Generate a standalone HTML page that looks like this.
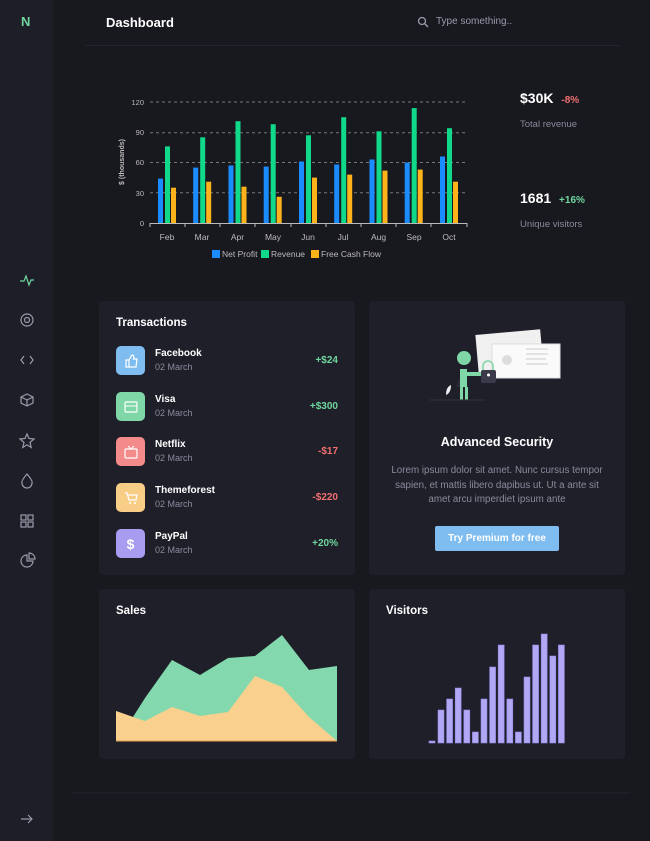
<!DOCTYPE html>
<html><head><meta charset="utf-8"><style>
*{margin:0;padding:0;box-sizing:border-box}
body{width:650px;height:841px;background:#18181f;font-family:"Liberation Sans",sans-serif;position:relative;overflow:hidden;color:#fff}
.abs{position:absolute}
.side{left:0;top:0;width:53px;height:841px;background:#1e1e28}
.card{background:#1f1f2a;border-radius:4px}
.t{font-weight:bold;font-size:12px;color:#fff}
.s{font-size:9px;color:#8a8a9c}
.ic{width:29px;height:29px;border-radius:5px;display:flex;align-items:center;justify-content:center}
</style></head><body>
<div class="abs side"></div>
<div class="abs" style="left:21px;top:14px;color:#6fd69d;font-weight:bold;font-size:13px">N</div>
<div class="abs t" style="left:106px;top:15px;font-size:13px">Dashboard</div>
<svg class="abs" style="left:417px;top:16px" width="12" height="12"><circle cx="5" cy="5" r="3.5" stroke="#9a9aac" stroke-width="1.3" fill="none"/><line x1="7.5" y1="7.5" x2="11" y2="11" stroke="#9a9aac" stroke-width="1.4"/></svg>
<div class="abs" style="left:436px;top:16px;font-size:10px;color:#9a9aac">Type something..</div>
<div class="abs" style="left:85px;top:45px;width:535px;height:1px;background:#23232d"></div>

<svg class="abs" style="left:0;top:0" width="650" height="841">
<g stroke="#777" stroke-dasharray="3,3" stroke-width="1">
<line x1="150" y1="102" x2="467" y2="102"/><line x1="150" y1="132.8" x2="467" y2="132.8"/><line x1="150" y1="162.5" x2="467" y2="162.5"/><line x1="150" y1="192.8" x2="467" y2="192.8"/></g>
<line x1="150" y1="223.5" x2="467" y2="223.5" stroke="#bbb"/>
<g stroke="#bbb"><line x1="150" y1="223" x2="150" y2="227"/><line x1="185" y1="223" x2="185" y2="227"/><line x1="220" y1="223" x2="220" y2="227"/><line x1="255" y1="223" x2="255" y2="227"/><line x1="291" y1="223" x2="291" y2="227"/><line x1="326" y1="223" x2="326" y2="227"/><line x1="361" y1="223" x2="361" y2="227"/><line x1="396" y1="223" x2="396" y2="227"/><line x1="431" y1="223" x2="431" y2="227"/><line x1="467" y1="223" x2="467" y2="227"/></g>
<g font-family="Liberation Sans" font-size="7.5" fill="#bbb" text-anchor="end"><text x="144" y="105">120</text><text x="144" y="135">90</text><text x="144" y="165">60</text><text x="144" y="196">30</text><text x="144" y="226">0</text></g>
<text transform="translate(124,162) rotate(-90)" font-family="Liberation Sans" font-size="7" font-weight="bold" fill="#bbb" text-anchor="middle">$ (thousands)</text>
<g font-family="Liberation Sans" font-size="8.5" fill="#bbb" text-anchor="middle"><text x="167" y="240">Feb</text><text x="202" y="240">Mar</text><text x="237.5" y="240">Apr</text><text x="273" y="240">May</text><text x="308" y="240">Jun</text><text x="343" y="240">Jul</text><text x="378.5" y="240">Aug</text><text x="414" y="240">Sep</text><text x="449" y="240">Oct</text></g>
<g fill="#1a8cff">
<rect x="158" y="178.6" width="5" height="44.4"/><rect x="193.2" y="167.6" width="5" height="55.4"/><rect x="228.5" y="165.5" width="5" height="57.5"/><rect x="263.7" y="166.6" width="5" height="56.4"/><rect x="299" y="161.5" width="5" height="61.5"/><rect x="334.2" y="164.5" width="5" height="58.5"/><rect x="369.5" y="159.5" width="5" height="63.5"/><rect x="404.7" y="162.5" width="5" height="60.5"/><rect x="440" y="156.5" width="5" height="66.5"/></g>
<g fill="#10d98a">
<rect x="165" y="146.4" width="5" height="76.6"/><rect x="200.2" y="137.3" width="5" height="85.7"/><rect x="235.5" y="121.2" width="5" height="101.8"/><rect x="270.7" y="124.2" width="5" height="98.8"/><rect x="306" y="135.3" width="5" height="87.7"/><rect x="341.2" y="117.2" width="5" height="105.8"/><rect x="376.5" y="131.3" width="5" height="91.7"/><rect x="411.7" y="108.1" width="5" height="114.9"/><rect x="447" y="128.2" width="5" height="94.8"/></g>
<g fill="#ffb31a">
<rect x="171" y="187.7" width="5" height="35.3"/><rect x="206.2" y="181.7" width="5" height="41.3"/><rect x="241.5" y="186.7" width="5" height="36.3"/><rect x="276.7" y="196.8" width="5" height="26.2"/><rect x="312" y="177.6" width="5" height="45.4"/><rect x="347.2" y="174.6" width="5" height="48.4"/><rect x="382.5" y="170.6" width="5" height="52.4"/><rect x="417.7" y="169.6" width="5" height="53.4"/><rect x="453" y="181.7" width="5" height="41.3"/></g>
<rect x="212" y="250" width="8" height="8" fill="#1a8cff"/><rect x="261" y="250" width="8" height="8" fill="#10d98a"/><rect x="311" y="250" width="8" height="8" fill="#ffb31a"/>
<g font-family="Liberation Sans" font-size="8.5" fill="#bbb"><text x="222" y="257">Net Profit</text><text x="271" y="257">Revenue</text><text x="321" y="257">Free Cash Flow</text></g>
</svg>

<div class="abs t" style="left:520px;top:90px;font-size:14px">$30K <span style="color:#f07070;font-size:10px;margin-left:4px">-8%</span></div>
<div class="abs s" style="left:520px;top:119px;font-size:9.5px">Total revenue</div>
<div class="abs t" style="left:520px;top:190px;font-size:14px">1681 <span style="color:#6fd69d;font-size:10px;margin-left:4px">+16%</span></div>
<div class="abs s" style="left:520px;top:219px;font-size:9.5px">Unique visitors</div>

<div class="abs card" style="left:99px;top:301px;width:256px;height:274px"></div>
<div class="abs t" style="left:116px;top:317px;font-size:11.5px">Transactions</div>

<div class="abs ic" style="left:116px;top:346px;background:#7fbdf0"><svg width="14" height="14"><path d="M2 6h3v7H2zM5 6l3-5c2 0 2 2 1.5 4H13l-1 8H5" stroke="#fff" fill="none" stroke-width="1.2"/></svg></div>
<div class="abs t" style="left:155px;top:348px;font-size:10px">Facebook</div><div class="abs s" style="left:155px;top:362px">02 March</div><div class="abs" style="right:312px;top:355px;font-size:10px;color:#6fd69d;font-weight:bold">+$24</div>

<div class="abs ic" style="left:116px;top:392px;background:#7fd6a6"><svg width="14" height="12"><rect x="1" y="1" width="12" height="10" rx="1" stroke="#fff" fill="none" stroke-width="1.2"/><line x1="1" y1="5" x2="13" y2="5" stroke="#fff"/></svg></div>
<div class="abs t" style="left:155px;top:394px;font-size:10px">Visa</div><div class="abs s" style="left:155px;top:408px">02 March</div><div class="abs" style="right:312px;top:401px;font-size:10px;color:#6fd69d;font-weight:bold">+$300</div>

<div class="abs ic" style="left:116px;top:437px;background:#f48b8b"><svg width="14" height="14"><rect x="1" y="4" width="12" height="9" rx="1" stroke="#fff" fill="none" stroke-width="1.2"/><path d="M4 1l3 3 3-3" stroke="#fff" fill="none"/></svg></div>
<div class="abs t" style="left:155px;top:439px;font-size:10px">Netflix</div><div class="abs s" style="left:155px;top:453px">02 March</div><div class="abs" style="right:312px;top:446px;font-size:10px;color:#f07070;font-weight:bold">-$17</div>

<div class="abs ic" style="left:116px;top:483px;background:#f8cd86"><svg width="14" height="14"><path d="M1 2h2l2 7h7l1-5H4" stroke="#fff" fill="none" stroke-width="1.2"/><circle cx="6" cy="12" r="1" fill="#fff"/><circle cx="11" cy="12" r="1" fill="#fff"/></svg></div>
<div class="abs t" style="left:155px;top:485px;font-size:10px">Themeforest</div><div class="abs s" style="left:155px;top:499px">02 March</div><div class="abs" style="right:312px;top:492px;font-size:10px;color:#f07070;font-weight:bold">-$220</div>

<div class="abs ic" style="left:116px;top:529px;background:#a89cf0;color:#fff;font-size:14px;font-weight:bold">$</div>
<div class="abs t" style="left:155px;top:531px;font-size:10px">PayPal</div><div class="abs s" style="left:155px;top:545px">02 March</div><div class="abs" style="right:312px;top:538px;font-size:10px;color:#6fd69d;font-weight:bold">+20%</div>

<div class="abs card" style="left:369px;top:301px;width:256px;height:274px"></div>
<svg class="abs" style="left:430px;top:325px" width="140" height="90">
<rect x="47" y="7" width="65" height="40" fill="#f0f0f0" transform="rotate(-5 80 27)"/>
<rect x="62" y="19" width="68" height="34" fill="#fafafa" stroke="#ddd"/>
<circle cx="77" cy="35" r="5" fill="#ddd"/>
<g stroke="#ccc"><line x1="96" y1="24" x2="118" y2="24"/><line x1="96" y1="29" x2="118" y2="29"/><line x1="96" y1="34" x2="116" y2="34"/><line x1="96" y1="39" x2="118" y2="39"/></g>
<circle cx="34" cy="33" r="7" fill="#7fd6a6"/>
<path d="M26 62 q6 -20 12 0z" fill="#2b2b38"/>
<rect x="30" y="44" width="7" height="18" fill="#7fd6a6"/>
<rect x="30" y="62" width="3" height="13" fill="#7fd6a6"/><rect x="35" y="62" width="3" height="13" fill="#7fd6a6"/>
<rect x="37" y="47" width="15" height="4" fill="#7fd6a6"/>
<path d="M53 47 v-6 a5 5 0 0 1 10 0 v6" stroke="#7fd6a6" fill="none" stroke-width="1.5"/>
<rect x="51" y="45" width="15" height="13" rx="2" fill="#3a3a4a"/>
<circle cx="58.5" cy="50" r="1.5" fill="#fff"/>
<path d="M16 70 q0 -8 5 -10 q0 8 -5 10z" fill="#eee"/>
<line x1="0" y1="75" x2="55" y2="75" stroke="#333"/>
</svg>
<div class="abs t" style="left:369px;top:435px;width:256px;text-align:center;font-size:12.5px">Advanced Security</div>
<div class="abs" style="left:384px;top:464px;width:226px;text-align:center;font-size:9.8px;line-height:14.6px;color:#8a8a9c">Lorem ipsum dolor sit amet. Nunc cursus tempor sapien, et mattis libero dapibus ut. Ut a ante sit amet arcu imperdiet ipsum ante</div>
<div class="abs" style="left:435px;top:526px;width:124px;height:25px;background:#7fbdf0;border-radius:2px;text-align:center;line-height:25px;font-size:10px;font-weight:bold;color:#fff">Try Premium for free</div>

<div class="abs card" style="left:99px;top:589px;width:256px;height:170px"></div>
<div class="abs t" style="left:116px;top:605px;font-size:11.5px">Sales</div>
<div class="abs card" style="left:369px;top:589px;width:256px;height:170px"></div>
<div class="abs t" style="left:386px;top:605px;font-size:11.5px">Visitors</div>

<svg class="abs" style="left:0;top:0" width="650" height="841">
<polygon points="116,711 133,717 145,698 172,660 200,675 228,658 255,656 282,635 309,670 337,666 337,741 116,741" fill="#83d8ae"/>
<polygon points="116,711 133,717 145,721 172,707 200,716 228,712 255,676 282,687 309,717 337,741 116,741" fill="#f9d08e"/>
<line x1="116" y1="741" x2="337" y2="741" stroke="#e8a050" stroke-width="1"/>
<g fill="#b0a8f5" stroke="#8f86e0" stroke-width="0.6">
<rect x="429" y="741" width="6" height="2"/>
<rect x="438" y="710" width="6" height="33"/><rect x="446.6" y="699" width="6" height="44"/><rect x="455.2" y="688" width="6" height="55"/><rect x="463.8" y="710" width="6" height="33"/><rect x="472.4" y="732" width="6" height="11"/><rect x="481" y="699" width="6" height="44"/><rect x="489.6" y="667" width="6" height="76"/><rect x="498.2" y="645" width="6" height="98"/><rect x="506.8" y="699" width="6" height="44"/><rect x="515.4" y="732" width="6" height="11"/><rect x="524" y="677" width="6" height="66"/><rect x="532.6" y="645" width="6" height="98"/><rect x="541.2" y="634" width="6" height="109"/><rect x="549.8" y="656" width="6" height="87"/><rect x="558.4" y="645" width="6" height="98"/></g>
<line x1="72" y1="793" x2="630" y2="793" stroke="#23232d"/>
<g stroke="#9a9aac" stroke-width="1.2" fill="none">
<polyline points="20,281 24,281 26,276 29,285 31,280 34,280" stroke="#6fd69d"/>
<circle cx="27" cy="320" r="6"/><circle cx="27" cy="320" r="2.5"/>
<polyline points="24,356 21,360 24,364"/><polyline points="30,356 33,360 30,364"/>
<path d="M27 394 l6 3 v6 l-6 3 l-6 -3 v-6z M21 397 l6 3 l6 -3 M27 400 v6"/>
<path d="M27 434 l2 4.5 5 .5 -4 3.5 1.2 5 -4.2 -2.7 -4.2 2.7 1.2 -5 -4 -3.5 5 -.5z"/>
<path d="M27 474 q6 7 5 9 a5 5 0 0 1 -10 0 q-1 -2 5 -9z"/>
<rect x="21" y="515" width="5" height="5"/><rect x="28" y="515" width="5" height="5"/><rect x="21" y="522" width="5" height="5"/><rect x="28" y="522" width="5" height="5"/>
<path d="M27 555 a6 6 0 1 0 6 6 h-6z"/><path d="M29 553 a6 6 0 0 1 6 6 h-6z"/>
<line x1="21" y1="819" x2="32" y2="819"/><polyline points="28,815 32,819 28,823"/>
</g>
</svg>
</body></html>
